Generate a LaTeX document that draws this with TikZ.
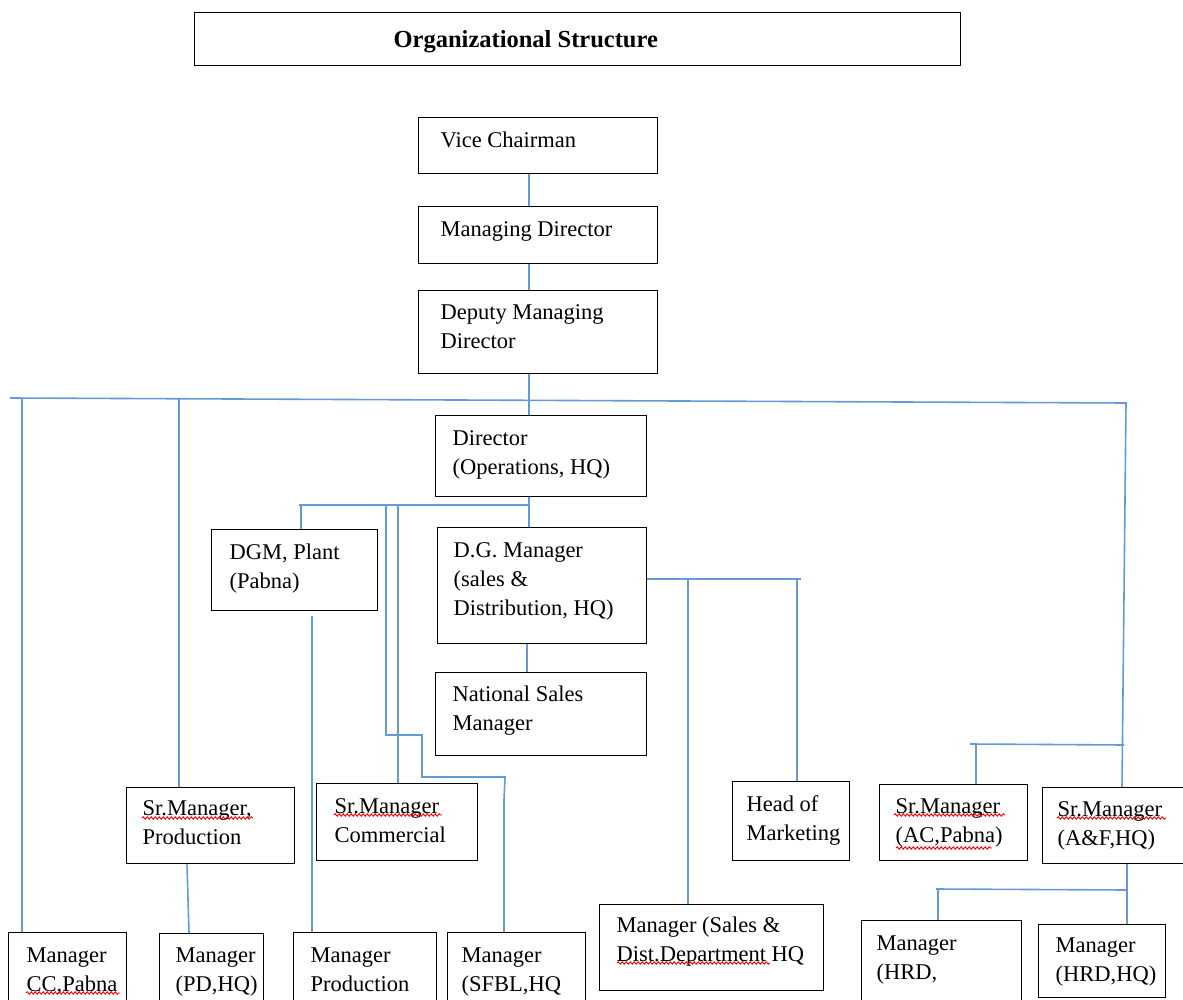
\documentclass[tikz,border=0pt]{standalone}
\usepackage{fontspec}
\setmainfont{Liberation Serif}
\usetikzlibrary{decorations.pathmorphing}
\definecolor{connblue}{RGB}{100,155,215}
\tikzset{
  x=1pt, y=-1pt,
  orgbox/.style={draw=black, line width=1.3pt, inner sep=0pt, anchor=north west,
                 font=\fontsize{22.5}{29}\selectfont},
  conn/.style={draw=connblue, line width=1.6pt},
  wavy/.style={draw=red, line width=0.9pt, decorate,
               decoration={snake, amplitude=1.2pt, segment length=4pt}}
}
% name, x1, y1, x2, y2, left inset, first-line height, text
\newcommand{\obox}[8]{%
  \node[orgbox] (#1) at (#2,#3) {\parbox[t][\dimexpr #5pt-#3pt\relax][t]{\dimexpr #4pt-#2pt\relax}{%
    \leftskip=#6pt\rightskip=0pt plus 1fil\rule{0pt}{#7pt}#8}};}
\begin{document}
\begin{tikzpicture}
\useasboundingbox (0,0) rectangle (1183,1000);
\clip (0,0) rectangle (1183,1000);
\fill[white] (0,0) rectangle (1183,1000);

% boxes
\obox{title}{194}{12}{960}{65}{199}{35}{\fontsize{24.5}{29}\selectfont\textbf{Organizational Structure}}
\obox{vc}{418}{117}{657}{173}{22}{30}{Vice Chairman}
\obox{md}{418}{206}{657}{263}{22}{30}{Managing Director}
\obox{dmd}{418}{290}{657}{373}{22}{29}{Deputy Managing\\Director}
\obox{dir}{435}{415}{646}{496}{17}{30}{Director\\(Operations, HQ)}
\obox{dgm}{211}{529}{377}{610}{18}{30}{DGM, Plant\\(Pabna)}
\obox{dgsd}{437}{527}{646}{643}{16}{30}{D.G. Manager\\(sales \&\\Distribution, HQ)}
\obox{nsm}{435}{672}{646}{755}{17}{29}{National Sales\\Manager}
\obox{spr}{126}{787}{294}{863}{16}{28}{Sr.Manager,\\Production}
\obox{comm}{316}{783}{477}{860}{18}{30}{Sr.Manager\\Commercial}
\obox{hom}{732}{781}{849}{860}{14}{30}{Head of\\Marketing}
\obox{ac}{879}{784}{1027}{860}{16}{29}{Sr.Manager\\(AC,Pabna)}
\obox{afhq}{1042}{787}{1192}{863}{15}{29}{Sr.Manager\\(A\&F,HQ)}
\obox{cc}{8}{932}{126}{1012}{18}{30}{Manager\\CC,Pabna}
\obox{pd}{159}{933}{263}{1012}{16}{29}{Manager\\(PD,HQ)}
\obox{mprod}{293}{932}{436}{1012}{17}{30}{Manager\\Production}
\obox{sfbl}{447}{932}{585}{1012}{14}{30}{Manager\\(SFBL,HQ}
\obox{msd}{599}{904}{823}{990}{17}{28}{Manager (Sales \&\\Dist.Department HQ}
\obox{hrd}{861}{920}{1021}{1012}{15}{30}{Manager\\(HRD,}
\obox{hrdhq}{1038}{924}{1165}{997}{17}{28}{Manager\\(HRD,HQ)}

% junction coordinates
\coordinate (top) at (529,400);
\coordinate (busL) at (10,398);
\coordinate (busR) at (1126,403);
\coordinate (dirbus) at (529,505);
\coordinate (dirbusL) at (299,505);
\coordinate (sdbusR) at (801,579);
\coordinate (rbusL) at (970,744);
\coordinate (rbusR) at (1124,745);
\coordinate (hrbus) at (1127,890);
\coordinate (hrbusL) at (936,889);

% top chain
\draw[conn] (vc.south -| top) -- (md.north -| top);
\draw[conn] (md.south -| top) -- (dmd.north -| top);
\draw[conn] (dmd.south -| top) -- (top);

% main bus
\draw[conn] (busL) -- (busR) -- ([xshift=80pt]afhq.north west);
\draw[conn] (22,398) -- ([xshift=14pt]cc.north west);
\draw[conn] (179,399) -- ([xshift=53pt]spr.north west);
\draw[conn] (top) -- (dir.north -| top);

% director level
\draw[conn] (dir.south -| top) -- (dgsd.north -| top);
\draw[conn] (dirbusL) -- (dirbus);
\draw[conn] (301,505) -- ([xshift=90pt]dgm.north west);
\draw[conn] (398,505) -- ([xshift=82pt]comm.north west);
\draw[conn] (386,505) -- (386,735) -- (422,735) -- (422,777) -- (505,777) -- (504,800) -- ([xshift=57pt]sfbl.north west);

% DGM plant to manager production
\draw[conn] ([xshift=101pt,yshift=-5pt]dgm.south west) -- ([xshift=19pt]mprod.north west);

% sales & distribution
\draw[conn] ([xshift=90pt]dgsd.south west) -- ([xshift=92pt]nsm.north west);
\draw[conn] (dgsd.east |- sdbusR) -- (sdbusR);
\draw[conn] (688,579) -- ([xshift=89pt]msd.north west);
\draw[conn] (797,579) -- ([xshift=65pt]hom.north west);

% right group
\draw[conn] (rbusL) -- (rbusR);
\draw[conn] (976,744) -- ([xshift=97pt]ac.north west);

% lower levels
\draw[conn] ([xshift=61pt]spr.south west) -- ([xshift=30pt]pd.north west);
\draw[conn] (afhq.south -| hrbus) -- (hrdhq.north -| hrbus);
\draw[conn] (hrbusL) -- (hrbus);
\draw[conn] (938,889) -- ([xshift=77pt]hrd.north west);

% spell-check underlines
\draw[wavy] (142,818) -- (253,818);
\draw[wavy] (334,815) -- (442,815);
\draw[wavy] (894,815) -- (1005,815);
\draw[wavy] (896,848) -- (992,848);
\draw[wavy] (1057,818) -- (1166,818);
\draw[wavy] (26,993) -- (120,993);
\draw[wavy] (617,963) -- (770,963);
\end{tikzpicture}
\end{document}
